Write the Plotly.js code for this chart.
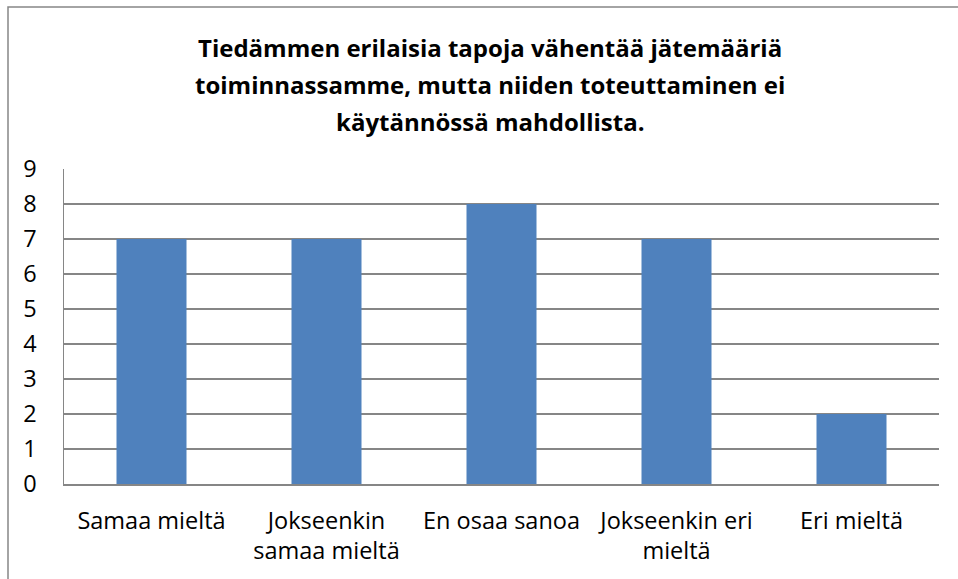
<!DOCTYPE html>
<html><head><meta charset="utf-8">
<script src="https://cdn.plot.ly/plotly-3.0.1.min.js"></script>
<style>html,body{margin:0;padding:0;background:#fff}#chart{width:958px;height:579px}</style>
</head><body><div id="chart"></div>
<script>
const categories = ["Samaa mieltä", "Jokseenkin<br>samaa mieltä", "En osaa sanoa", "Jokseenkin eri<br>mieltä", "Eri mieltä"];
const values = [7, 7, 8, 7, 2];
const yTicks = [0,1,2,3,4,5,6,7,8,9];
const titleLines = ["Tiedämmen erilaisia tapoja vähentää jätemääriä",
                    "toiminnassamme, mutta niiden toteuttaminen ei",
                    "käytännössä mahdollista."];

const W = 958, H = 579, L = 64, R = 19, T = 169, B = 95;
const pw = W - L - R, ph = H - T - B;
const px = v => (v - L) / pw;
const py = v => 1 - (v - T) / ph;

const font = "'Open Sans', sans-serif";
const titleY = [47, 84, 121];
Plotly.newPlot('chart', [{
  type: 'bar', x: categories, y: values,
  marker: {color: '#4F81BD'}, hoverinfo: 'none'
}], {
  width: W, height: H,
  margin: {l: L, r: R, t: T, b: B, pad: 0},
  paper_bgcolor: '#fff', plot_bgcolor: '#fff',
  bargap: 0.6,
  font: {family: font, color: '#000', size: 23.5},
  xaxis: {showgrid: false, showline: true, linecolor: '#868686', linewidth: 1.5,
          ticks: '', tickfont: {size: 23.5}, ticklabelstandoff: 15, fixedrange: true},
  yaxis: {range: [0, 9], tickvals: yTicks, showgrid: true, gridcolor: '#868686', gridwidth: 1.5,
          showline: true, linecolor: '#868686', linewidth: 1.5, zeroline: false,
          ticks: '', tickfont: {size: 23.5}, ticklabelstandoff: 21, fixedrange: true},
  annotations: titleLines.map((t, i) => ({
    text: '<b>' + t + '</b>', xref: 'paper', yref: 'paper', x: px(490), y: py(titleY[i]),
    xanchor: 'center', yanchor: 'middle', showarrow: false,
    font: {family: font, size: 24, color: '#000'}
  })),
  shapes: [{type: 'rect', xref: 'paper', yref: 'paper',
            x0: px(8), x1: px(975), y0: py(600), y1: py(7),
            line: {color: '#868686', width: 1.5}, fillcolor: 'rgba(0,0,0,0)', layer: 'below'}],
  showlegend: false
}, {staticPlot: true});
</script></body></html>
